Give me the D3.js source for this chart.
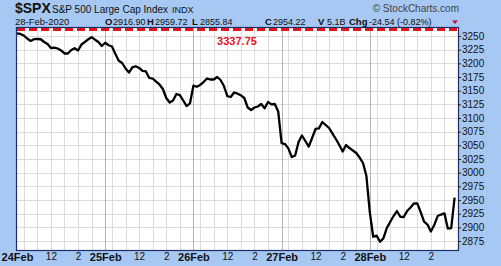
<!DOCTYPE html>
<html>
<head>
<meta charset="utf-8">
<script src="https://cdn.jsdelivr.net/npm/d3@7"></script>
<style>
  body { margin: 0; background: #a6c8f2; }
  svg { display: block; font-family: Arial, "Liberation Sans", sans-serif; }
  .grid line { stroke: #dcdcdc; stroke-width: 1; }
  .grid line.day { stroke: #b4b4b4; }
</style>
</head>
<body>
<div id="chart"><svg></svg></div>
<script>
// dias de cotizacion y precios cada 15 minutos (9:30 .. 15:45)
var days = ["24Feb", "25Feb", "26Feb", "27Feb", "28Feb"];

var feb24 = [3254.9, 3253.7, 3250.9, 3245.4, 3240.9, 3244.1, 3244.5, 3244.0, 3239.0, 3235.4,
             3228.0, 3228.6, 3227.1, 3223.5, 3218.0, 3218.0, 3224.4, 3227.5, 3223.5, 3234.4,
             3239.0, 3244.0, 3247.8, 3243.2, 3239.0, 3231.7];
var feb25 = [3237.7, 3233.0, 3230.8, 3217.1, 3204.8, 3200.6, 3190.5, 3183.2, 3192.7, 3194.7,
             3191.5, 3186.0, 3185.1, 3173.2, 3172.2, 3166.4, 3161.3, 3153.0, 3136.6, 3128.3,
             3132.0, 3143.9, 3142.0, 3132.0, 3121.9, 3126.9];
var feb26 = [3159.1, 3157.2, 3160.4, 3165.8, 3172.2, 3170.4, 3170.4, 3175.0, 3169.5, 3158.5,
             3140.2, 3138.4, 3146.6, 3144.5, 3141.5, 3136.6, 3119.2, 3114.6, 3119.2, 3121.0,
             3125.6, 3117.7, 3129.3, 3125.0, 3125.6, 3111.9];
var feb27 = [3054.2, 3052.4, 3044.5, 3028.6, 3031.4, 3056.1, 3068.0, 3057.9, 3047.8, 3063.4,
             3079.9, 3081.1, 3092.7, 3087.2, 3081.7, 3071.6, 3061.6, 3050.6, 3038.7, 3050.6,
             3045.1, 3040.6, 3036.0, 3027.7, 3017.7, 2993.9];
var feb28 = [2928.0, 2882.8, 2885.0, 2873.7, 2879.9, 2898.7, 2909.7, 2920.7, 2929.8, 2919.4,
             2918.9, 2929.8, 2936.2, 2943.6, 2943.9, 2928.0, 2910.6, 2905.1, 2892.3, 2904.2,
             2920.7, 2923.4, 2925.6, 2897.8, 2898.7, 2954.2];

var yTicks = [2875, 2900, 2925, 2950, 2975, 3000, 3025, 3050, 3075, 3100,
              3125, 3150, 3175, 3200, 3225, 3250];
var hourLabels = ["12", "2"];
var hourLabelMinutes = [150, 270];          // 12:00 y 14:00 desde la apertura
var gridMinutes = [30, 90, 150, 210, 270, 330]; // cada hora en punto
var previousHigh = 3337.75;

// encabezado
var headerKeys = ["O", "H", "L", "C", "V", "Chg"];
var headerVals = ["2916.90", "2959.72", "2855.84", "2954.22", "5.1B", "-24.54 (-0.82%)"];

var w = 501, h = 266;
var mLeft = 17, mRight = 458, mTop = 28, mBottom = 250;
var dayLen = 390, step = 15;

var series = [feb24, feb25, feb26, feb27, feb28];
var dataset = [];
series.forEach(function(vals, d) {
    vals.forEach(function(v, k) {
        dataset.push({minuto: d * dayLen + k * step, precio: v});
    });
});

var xScale = d3.scaleLinear()
    .domain([0, days.length * dayLen])
    .range([mLeft, mRight]);

var yScale = d3.scaleLinear()
    .domain([2858.6, 3264.6])
    .range([mBottom, mTop]);

var svg = d3.select("#chart").select("svg")
    .attr("width", w)
    .attr("height", h);

svg.append("rect")
    .attr("width", w).attr("height", h)
    .attr("fill", "#a6c8f2");

// area del grafico
svg.append("rect")
    .attr("x", mLeft).attr("y", mTop)
    .attr("width", mRight - mLeft).attr("height", mBottom - mTop)
    .attr("fill", "#ffffff");

// cuadricula
var grid = svg.append("g").attr("class", "grid");

grid.selectAll("line.h")
    .data(yTicks)
    .enter().append("line")
    .attr("class", "h")
    .attr("x1", mLeft).attr("x2", mRight)
    .attr("y1", function(d) { return Math.round(yScale(d)) + 0.5; })
    .attr("y2", function(d) { return Math.round(yScale(d)) + 0.5; });

var vLines = [];
days.forEach(function(dd, i) {
    if (i > 0) vLines.push({m: i * dayLen, day: true});
    gridMinutes.forEach(function(g) { vLines.push({m: i * dayLen + g, day: false}); });
});

grid.selectAll("line.v")
    .data(vLines)
    .enter().append("line")
    .attr("class", function(d) { return d.day ? "v day" : "v"; })
    .attr("y1", mTop).attr("y2", mBottom)
    .attr("x1", function(d) { return Math.round(xScale(d.m)) + 0.5; })
    .attr("x2", function(d) { return Math.round(xScale(d.m)) + 0.5; });

// maximo anterior (fuera de escala, se dibuja arriba)
svg.append("line")
    .attr("x1", mLeft).attr("x2", mRight)
    .attr("y1", mTop + 1.5).attr("y2", mTop + 1.5)
    .attr("stroke", "#e8141c")
    .attr("stroke-width", 3)
    .attr("stroke-dasharray", "8,4");

svg.append("text")
    .attr("x", 237).attr("y", 44.5)
    .attr("text-anchor", "middle")
    .attr("fill", "#e8141c")
    .style("font-size", "11px")
    .style("font-weight", "bold")
    .text(d3.format(".2f")(previousHigh));

// linea de precios
var line = d3.line()
    .x(function(d) { return xScale(d.minuto); })
    .y(function(d) { return yScale(d.precio); });

svg.append("path")
    .datum(dataset)
    .attr("fill", "none")
    .attr("stroke", "#000000")
    .attr("stroke-width", 2.3)
    .attr("stroke-linejoin", "round")
    .attr("d", line);

// borde
svg.append("rect")
    .attr("x", mLeft - 0.5).attr("y", mTop - 0.5)
    .attr("width", mRight - mLeft + 1).attr("height", mBottom - mTop + 1)
    .attr("fill", "none")
    .attr("stroke", "#1d2d66")
    .attr("stroke-width", 1.2);

// eje de y a la derecha
var yAxisRight = d3.axisRight()
    .scale(yScale)
    .tickValues(yTicks)
    .tickFormat(d3.format("d"))
    .tickSizeOuter(0)
    .tickSizeInner(3)
    .tickPadding(1);

var gy = svg.append("g")
    .attr("transform", "translate(" + mRight + ",0)")
    .call(yAxisRight);
gy.select(".domain").remove();
gy.selectAll("line").attr("stroke", "#222");
gy.selectAll("text")
    .style("font-size", "10px")
    .style("font-family", "Arial, 'Liberation Sans', sans-serif")
    .attr("fill", "#111");

// eje de x
var xTickVals = [], xTickText = [];
days.forEach(function(dd, i) {
    xTickVals.push(i * dayLen); xTickText.push(dd);
    hourLabelMinutes.forEach(function(m, j) {
        xTickVals.push(i * dayLen + m); xTickText.push(hourLabels[j]);
    });
});

var xAxisBottom = d3.axisBottom()
    .scale(xScale)
    .tickValues(xTickVals)
    .tickFormat(function(d, i) { return xTickText[i]; })
    .tickSizeOuter(0)
    .tickSizeInner(0)
    .tickPadding(3);

var gx = svg.append("g")
    .attr("transform", "translate(0," + mBottom + ")")
    .call(xAxisBottom);
gx.select(".domain").remove();
gx.selectAll("text")
    .style("font-family", "Arial, 'Liberation Sans', sans-serif")
    .attr("fill", "#111")
    .style("font-size", function(d) { return d % dayLen === 0 ? "11px" : "10px"; })
    .style("font-weight", function(d) { return d % dayLen === 0 ? "bold" : "normal"; });

// titulo
svg.append("text").attr("x", 15).attr("y", 13).attr("fill", "#111")
    .style("font-size", "14px").style("font-weight", "bold").text("$SPX");
svg.append("text").attr("x", 52).attr("y", 13).attr("fill", "#111")
    .style("font-size", "10px").text("S&P 500 Large Cap Index");
svg.append("text").attr("x", 172).attr("y", 13).attr("fill", "#111")
    .style("font-size", "9px").text("INDX");

svg.append("text")
    .attr("x", 15).attr("y", 25)
    .attr("fill", "#111")
    .style("font-size", "9.5px")
    .text("28-Feb-2020");

var keyX = [105, 147, 192, 265, 318, 349];
var valX = [113, 155, 200, 273, 327, 369];
headerKeys.forEach(function(k, i) {
    svg.append("text").attr("x", keyX[i]).attr("y", 25).attr("fill", "#111")
        .style("font-size", "9.5px").style("font-weight", "bold").text(k);
    svg.append("text").attr("x", valX[i]).attr("y", 25).attr("fill", "#111")
        .style("font-size", "9px").text(headerVals[i]);
});

svg.append("path")
    .attr("d", "M452,20.5 L458,20.5 L455,24 Z")
    .attr("fill", "#c0102a");

svg.append("text")
    .attr("x", 459).attr("y", 12)
    .attr("text-anchor", "end")
    .attr("fill", "#444")
    .style("font-size", "10px")
    .text("\u00a9 StockCharts.com");
</script>
</body>
</html>
